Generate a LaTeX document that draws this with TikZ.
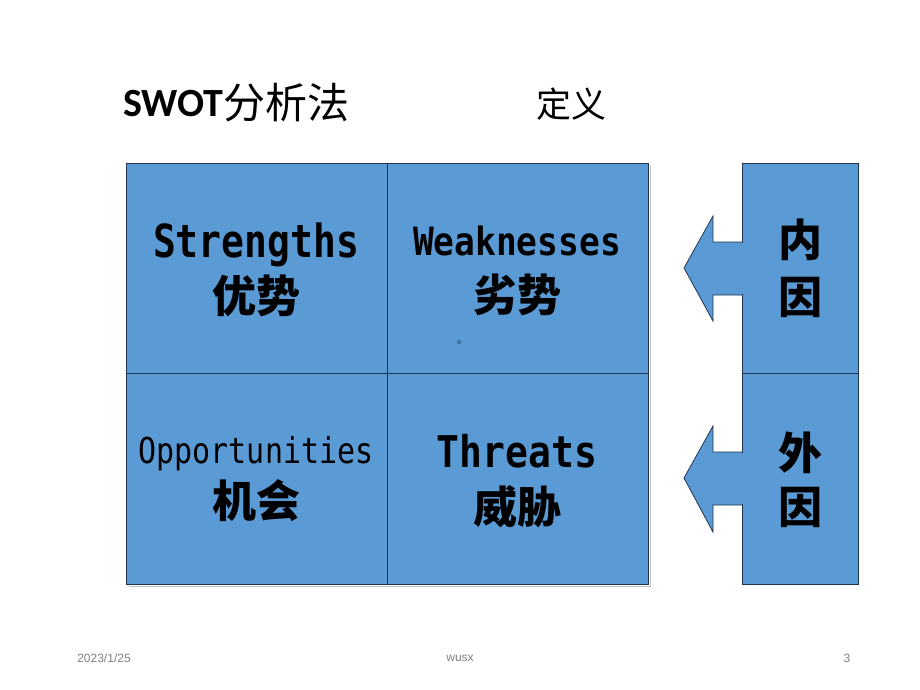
\documentclass[tikz,border=0pt]{standalone}
\usepackage{fontspec}
\setmainfont{Carlito}
\newfontfamily\cjk{Noto Sans CJK SC}
\newfontfamily\mono{DejaVu Sans Mono}
\newfontfamily\foot{Liberation Sans}
\definecolor{cellblue}{HTML}{5B9BD5}
\definecolor{edge}{HTML}{1F3550}
\definecolor{shadowgray}{HTML}{BFBFBF}
\newcommand{\monotext}[4]{\scalebox{1}[#2]{\mono#4\fontsize{#1}{#1}\selectfont #3}}
\begin{document}
\begin{tikzpicture}[x=1pt,y=-1pt,
  cell/.style={draw=edge, line width=0.8pt, fill=cellblue},
  cjklabel/.style={font=\cjk\bfseries\fontsize{44}{46}\selectfont, inner sep=0pt},
  footlabel/.style={font=\foot\fontsize{12}{14}\selectfont, text=gray, inner sep=0pt}]
\useasboundingbox (0,0) rectangle (920,690);
\fill[white] (0,0) rectangle (920,690);
% shadow lines
\draw[shadowgray, line width=1pt] (650,166) -- (650,586) -- (129,586);
% grid cells
\path[cell] (126,163) rectangle (387,373);
\path[cell] (387,163) rectangle (648,373);
\path[cell] (126,373) rectangle (387,584);
\path[cell] (387,373) rectangle (648,584);
% right boxes with arrows
\path[cell] (742,163) rectangle (858,373);
\path[cell] (742,373) rectangle (858,584);
\path[cell] (742,242) -- (713,242) -- (713,216) -- (684,268) -- (713,321) -- (713,295) -- (742,295);
\path[cell] (742,452) -- (713,452) -- (713,426) -- (684,478) -- (713,532) -- (713,505) -- (742,505);
\fill[cellblue] (741.5,243) rectangle (743.5,294);
\fill[cellblue] (741.5,453) rectangle (743.5,504);
% small artifact
\fill[edge!40!cellblue] (457,340) rectangle (461,344);
% title
\node[anchor=base west, inner sep=0pt, font=\bfseries\fontsize{40}{44}\selectfont] (swot) at (123,117) {SWOT};
\node[anchor=west, inner sep=0pt, font=\cjk\fontsize{42}{44}\selectfont] (fxf) at (swot.east |- 0,103) {分析法};
\node[inner sep=0pt, font=\cjk\fontsize{35}{38}\selectfont] (dy) at (571,104) {定义};
% cell texts
\node[anchor=base, inner sep=0pt] (s) at (256,257) {\monotext{38}{1.2}{Strengths}{\bfseries}};
\node[cjklabel] (s2) at (256,296) {优势};
\node[anchor=base, inner sep=0pt] (w) at (517,255) {\monotext{34.5}{1.13}{Weaknesses}{\bfseries}};
\node[cjklabel] (w2) at (517,295) {劣势};
\node[anchor=base, inner sep=0pt] (o) at (256,463) {\monotext{30}{1.19}{Opportunities}{}};
\node[cjklabel] (o2) at (256,501) {机会};
\node[anchor=base, inner sep=0pt] (t) at (517,467) {\monotext{38}{1.15}{Threats}{\bfseries}};
\node[cjklabel] (t2) at (517,507) {威胁};
% right texts
\node[cjklabel] (n1) at (800,240) {内};
\node[cjklabel] (n2) at (800,297) {因};
\node[cjklabel] (e1) at (800,453) {外};
\node[cjklabel] (e2) at (800,507) {因};
% footer
\node[footlabel] (date) at (104,658) {2023/1/25};
\node[footlabel] (au) at (460,658) {wusx};
\node[footlabel] (pg) at (847,658) {3};
\end{tikzpicture}
\end{document}
